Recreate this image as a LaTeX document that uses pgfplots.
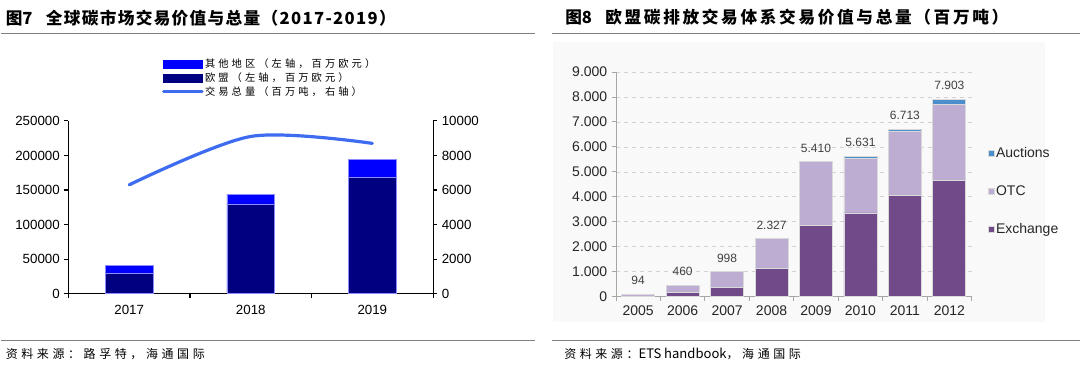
\documentclass[border=0pt]{standalone}
\usepackage{pgfplots}
\usepackage{pgfplotstable}
\pgfplotsset{compat=1.18}
\usepackage{fontspec}
\setmainfont{Liberation Sans}
\newfontfamily\cjk{Noto Sans CJK SC}
\newfontfamily\cjkTA[LetterSpace=8]{Noto Sans CJK SC}
\newfontfamily\cjkTB[LetterSpace=16]{Noto Sans CJK SC}
\newfontfamily\cjkL[LetterSpace=30]{Noto Sans CJK SC}
\newfontfamily\cjkS[LetterSpace=30]{Noto Sans CJK SC}
\definecolor{eu}{HTML}{000080}
\definecolor{oth}{HTML}{0000FF}
\definecolor{vol}{HTML}{3D6CF0}
\definecolor{exch}{HTML}{714A8A}
\definecolor{otc}{HTML}{BEADD2}
\definecolor{auc}{HTML}{4A8FCB}
\definecolor{panel}{HTML}{F9F9F9}
\definecolor{txt}{HTML}{262626}
\definecolor{vtxt}{HTML}{404040}
\pgfkeys{/pgf/number format/assume math mode=true, /pgf/number format/fixed}

\pgfplotstableread{
x eu oth vol
1 30000 11000 6300
2 130000 14000 9100
3 169000 25000 8700
}\globaldata

\pgfplotstableread{
x exch otc auc total
1 10 84 0 94
2 170 290 0 460
3 370 628 0 998
4 1150 1177 0 2327
5 2840 2570 0 5410
6 3355 2196 80 5631
7 4058 2565 90 6713
8 4668 3024 211 7903
}\etsdata

\begin{document}
\begin{tikzpicture}
% canvas
\path (0,0) rectangle (810pt,276.75pt);
% titles and rules
\node[anchor=west, inner sep=0pt] at (3.75pt,263.25pt) {\cjk\bfseries\fontsize{12.5}{15}\selectfont 图7\hspace{0.8em}\cjkTA\bfseries 全球碳市场交易价值与总量（2017-2019）};
\node[anchor=west, inner sep=0pt] at (423.75pt,264pt) {\cjk\bfseries\fontsize{12.5}{15}\selectfont 图8\hspace{0.8em}\cjkTB\bfseries 欧盟碳排放交易体系交易价值与总量（百万吨）};
\draw[gray, line width=0.75pt] (0pt,251.25pt) -- (401.25pt,251.25pt);
\draw[gray, line width=0.75pt] (414pt,251.25pt) -- (810pt,251.25pt);
\draw[gray, line width=0.75pt] (0pt,21pt) -- (401.25pt,21pt);
\draw[gray, line width=0.75pt] (414pt,21pt) -- (810pt,21pt);
\node[anchor=west, inner sep=0pt] at (3.75pt,11.25pt) {\cjkS\fontsize{9}{11}\selectfont 资料来源：路孚特，海通国际};
\node[anchor=west, inner sep=0pt] at (423pt,11.25pt) {\cjkS\fontsize{9}{11}\selectfont 资料来源：{\cjk\fontsize{9.8}{11}\selectfont ETS handbook}，海通国际};
% right panel background
\fill[panel] (414.75pt,35.25pt) rectangle (783.75pt,245.25pt);

% ---------- left chart: bars ----------
\begin{axis}[
  scale only axis, width=273.75pt, height=129.75pt,
  at={(51pt,56.25pt)}, anchor=south west,
  ybar stacked, bar width=36pt,
  xmin=0.5, xmax=3.5, ymin=0, ymax=250000,
  enlargelimits=false,
  axis x line*=bottom, axis y line*=left,
  xtick={0.5,1.5,2.5,3.5}, x tick label as interval,
  xticklabels={2017,2018,2019},
  xticklabel style={yshift=-2pt},
  ytick={0,50000,...,250000},
  scaled ticks=false,
  yticklabel style={/pgf/number format/.cd, fixed, 1000 sep={}},
  tick align=outside, major tick length=3pt,
  tick label style={font=\fontsize{10}{12}\selectfont, color=black},
  axis line style={black, line width=0.9pt},
  tick style={black, line width=0.8pt},
  legend style={at={(0.245,1.385)}, anchor=north west, draw=none, fill=none,
    font=\cjkL\fontsize{7.7}{8}\selectfont, row sep=0.3pt,
    nodes={inner sep=1pt}},
  legend cell align=left,
]
\addplot[fill=eu, draw=blue!45, line width=0.4pt, forget plot] table[x=x,y=eu] {\globaldata};
\addplot[fill=oth, draw=blue!45, line width=0.4pt, forget plot] table[x=x,y=oth] {\globaldata};
\addlegendimage{legend image code/.code={\fill[oth] (0pt,-3pt) rectangle (29pt,3pt);}}
\addlegendentry{其他地区（左轴，百万欧元）}
\addlegendimage{legend image code/.code={\fill[eu] (0pt,-3pt) rectangle (29pt,3pt);}}
\addlegendentry{欧盟（左轴，百万欧元）}
\addlegendimage{legend image code/.code={\draw[vol, line width=2.25pt, line cap=round] (0pt,0pt) -- (29pt,0pt);}}
\addlegendentry{交易总量（百万吨，右轴）}
\end{axis}

% ---------- left chart: line (right axis) ----------
\begin{axis}[
  scale only axis, width=273.75pt, height=129.75pt,
  at={(51pt,56.25pt)}, anchor=south west,
  xmin=0.5, xmax=3.5, ymin=0, ymax=10000,
  enlargelimits=false,
  axis x line=none, axis y line*=right,
  ytick={0,2000,...,10000},
  scaled ticks=false,
  yticklabel style={/pgf/number format/.cd, fixed, 1000 sep={}},
  tick align=outside, major tick length=3pt,
  tick label style={font=\fontsize{10}{12}\selectfont, color=black},
  axis line style={black, line width=0.9pt},
  tick style={black, line width=0.8pt},
]
\addplot[vol, line width=2.4pt, smooth, line cap=round, mark=none] table[x=x,y=vol] {\globaldata};
\end{axis}

% ---------- right chart ----------
\begin{axis}[
  scale only axis, width=267pt, height=168.75pt,
  at={(462pt,54pt)}, anchor=south west,
  ybar stacked, bar width=24.75pt,
  xmin=0.5, xmax=8.5, ymin=0, ymax=9000,
  enlargelimits=false,
  axis x line*=bottom, axis y line*=left,
  xtick={0.5,1.5,...,8.5}, x tick label as interval,
  xticklabels={2005,2006,2007,2008,2009,2010,2011,2012},
  ytick={0,1000,...,9000},
  scaled ticks=false,
  yticklabel style={/pgf/number format/.cd, fixed, 1000 sep={.}},
  tick align=outside, major tick length=3pt,
  tick label style={font=\fontsize{10.5}{12}\selectfont, color=txt},
  axis line style={gray!70, line width=0.6pt},
  tick style={gray!70, line width=0.6pt},
  ymajorgrids, grid style={dashed, gray!35, line width=0.5pt},
  legend style={at={(1.034,0.685)}, anchor=north west, draw=none, fill=none,
    font=\fontsize{10.5}{12}\selectfont, text=txt, row sep=17.8pt,
    nodes={inner sep=1pt}},
  legend cell align=left, reverse legend,
  legend image code/.code={\fill[#1] (0pt,-2.25pt) rectangle (4.5pt,2.25pt);},
]
\addplot[fill=exch, draw=gray!30, line width=0.6pt] table[x=x,y=exch] {\etsdata};
\addlegendentry{Exchange}
\addplot[fill=otc, draw=gray!30, line width=0.6pt] table[x=x,y=otc] {\etsdata};
\addlegendentry{OTC}
\addplot[fill=auc, draw=gray!30, line width=0.6pt] table[x=x,y=auc] {\etsdata};
\addlegendentry{Auctions}
\end{axis}

% ---------- right chart: total labels ----------
\begin{axis}[
  scale only axis, width=267pt, height=168.75pt,
  at={(462pt,54pt)}, anchor=south west,
  xmin=0.5, xmax=8.5, ymin=0, ymax=9000,
  enlargelimits=false, hide axis, clip=false,
]
\addplot[only marks, mark=none, point meta=y,
  nodes near coords={\pgfmathprintnumber[fixed, 1000 sep={.}]{\pgfplotspointmeta}},
  every node near coord/.append style={anchor=south, font=\fontsize{9}{11}\selectfont, color=vtxt, yshift=3.5pt}]
  table[x=x,y=total] {\etsdata};
\end{axis}
\end{tikzpicture}
\end{document}
